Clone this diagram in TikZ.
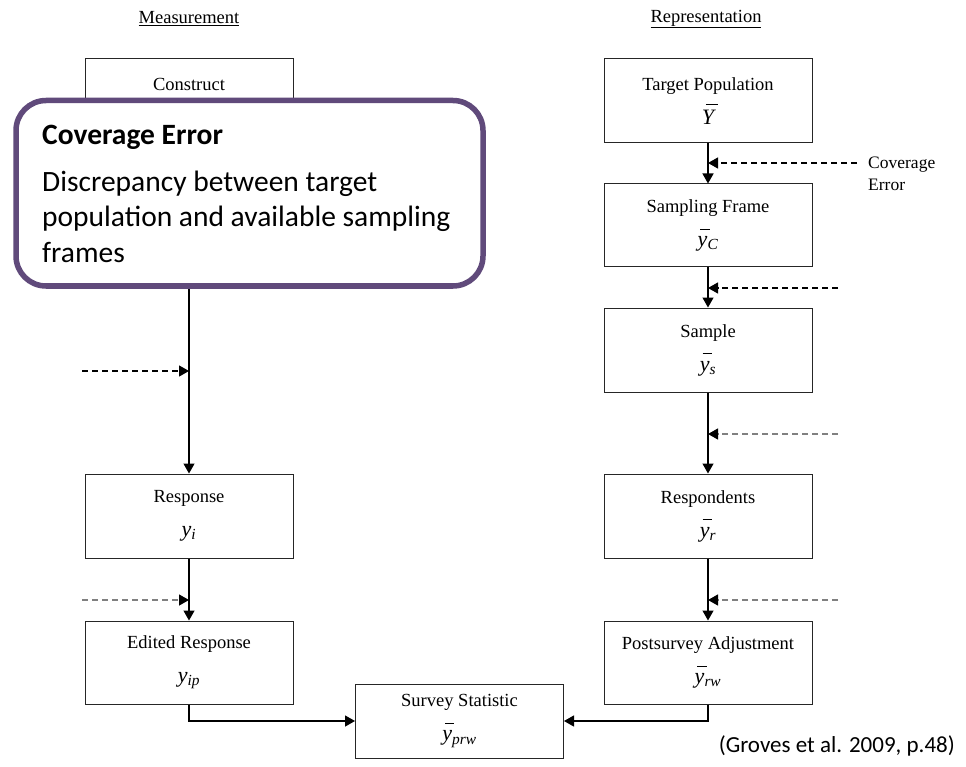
\documentclass[tikz,border=0pt]{standalone}
\usepackage{fontspec}
\setmainfont{Liberation Serif}
\newfontfamily\calib{Carlito}
\usetikzlibrary{arrows.meta}
\definecolor{calloutpurple}{RGB}{96,74,123}
\definecolor{dashgray}{RGB}{128,128,128}
\newcommand\msz[1]{{\fontsize{22}{34}\selectfont #1}}
\newcommand\ybar[1]{\msz{\itshape\rlap{\hspace{0.12em}\rule[0.76em]{0.42em}{0.055em}}y\textsubscript{#1}}}
\newcommand\Ybar{\msz{\itshape\rlap{\hspace{0.18em}\rule[0.86em]{0.56em}{0.055em}}Y}}
\newcommand\yplain[1]{\msz{\itshape y\textsubscript{#1}}}
\begin{document}
\begin{tikzpicture}[x=1pt,y=-1pt,
  box/.style={draw=black!85, line width=1pt, minimum width=208pt, minimum height=84pt,
    align=center, inner sep=0pt, font=\fontsize{18.5}{34}\selectfont},
  conn/.style={line width=1.3pt, -{Triangle[length=10pt,width=11pt]}},
  dsh/.style={conn, dash pattern=on 6pt off 4pt},
  dshg/.style={dsh, draw=dashgray, -{Triangle[length=10pt,width=11pt,color=black]}},
  title/.style={font=\fontsize{18.5}{22}\selectfont},
  calltext/.style={anchor=base west, inner sep=0pt, font=\calib\fontsize{29.5}{35}\selectfont}]
\useasboundingbox (0,0) rectangle (966,767);

% titles
\node[title] (tm) at (189,19) {\underline{Measurement}};
\node[title] (tr) at (706,19) {\underline{Representation}};

% left column
\node[box] (cons) at (189,101) {Construct\\\msz{\phantom{Y}}};
\node[box] (resp) at (189,516) {Response\\\yplain{i}};
\node[box, minimum height=83pt] (ed) at (189,662.5) {Edited Response\\\yplain{ip}};

% right column
\node[box] (tp) at (708,101) {Target Population\\\Ybar};
\node[box, minimum height=83pt] (sf) at (708,225.5) {Sampling Frame\\\ybar{C}};
\node[box] (sa) at (708,350) {Sample\\\ybar{s}};
\node[box] (rs) at (708,516) {Respondents\\\ybar{r}};
\node[box, minimum height=83pt] (pa) at (708,662.5) {Postsurvey Adjustment\\\ybar{rw}};

% bottom
\node[box, minimum height=74pt] (ss) at (459.5,721) {Survey Statistic\\\ybar{prw}};

% solid connectors
\draw[conn] (cons.south) -- (resp.north);
\draw[conn] (resp.south) -- (ed.north);
\draw[conn] (ed.south) |- (ss.west);
\draw[conn] (tp.south) -- (sf.north);
\draw[conn] (sf.south) -- (sa.north);
\draw[conn] (sa.south) -- (rs.north);
\draw[conn] (rs.south) -- (pa.north);
\draw[conn] (pa.south) |- (ss.east);

% error inputs
\coordinate (ce0) at (857,163);  \coordinate (ce1) at (708,163);
\coordinate (e20) at (838,288);  \coordinate (e21) at (708,288);
\coordinate (e30) at (838,434);  \coordinate (e31) at (708,434);
\coordinate (e40) at (838,600);  \coordinate (e41) at (708,600);
\coordinate (l10) at (82,371);   \coordinate (l11) at (189,371);
\coordinate (l20) at (82,600);   \coordinate (l21) at (189,600);
\draw[dsh] (ce0) -- (ce1);
\draw[dsh] (e20) -- (e21);
\draw[dshg] (e30) -- (e31);
\draw[dshg] (e40) -- (e41);
\draw[dsh] (l10) -- (l11);
\draw[dshg] (l20) -- (l21);

\node[anchor=west, align=left, inner sep=0pt, font=\fontsize{17.5}{22}\selectfont] (cel) at (868,174) {Coverage\\Error};

% callout
\node[draw=calloutpurple, line width=5.5pt, rounded corners=30pt, fill=white,
  minimum width=467pt, minimum height=185.5pt] (call) at (249.5,193.25) {};
\node[calltext, font=\calib\bfseries\fontsize{29.5}{35}\selectfont] (ct) at (42,145) {Coverage Error};
\node[calltext] (c1) at (42,192) {Discrepancy between target};
\node[calltext] (c2) at (42,227) {population and available sampling};
\node[calltext] (c3) at (42,262) {frames};

% citation
\node[anchor=base east, inner sep=0pt, font=\calib\fontsize{23}{28}\selectfont] (cite) at (955,752) {(Groves et al. 2009, p.48)};
\end{tikzpicture}
\end{document}
